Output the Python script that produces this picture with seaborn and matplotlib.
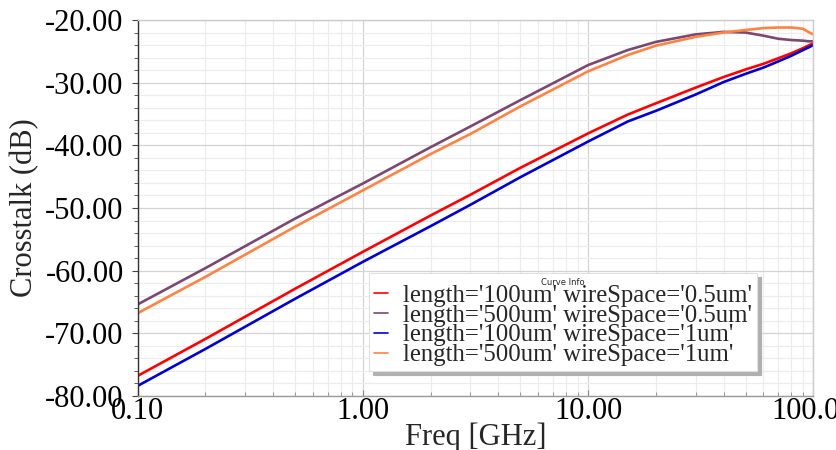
import numpy as np
import pandas as pd
import matplotlib
matplotlib.use("Agg")
import matplotlib.pyplot as plt
from matplotlib.ticker import FixedLocator, MultipleLocator, LogLocator, NullFormatter
import seaborn as sns

# frequency points (GHz)
freq = [0.1, 0.2, 0.5, 1, 2, 3, 5, 10, 15, 20, 30, 40, 50, 60, 70, 80, 90, 95, 100]

# crosstalk in dB for each curve
xt_100_05 = [-76.8, -70.9, -62.9, -57.0, -51.2, -47.9, -43.6, -38.1, -35.1, -33.3,
             -30.8, -29.1, -27.9, -27.0, -26.1, -25.3, -24.5, -24.1, -23.7]
xt_500_05 = [-65.4, -59.6, -51.7, -46.1, -40.3, -37.0, -32.8, -27.2, -24.8, -23.5,
             -22.3, -21.9, -22.0, -22.5, -23.0, -23.2, -23.3, -23.4, -23.4]
xt_100_1 = [-78.4, -72.5, -64.5, -58.6, -52.9, -49.5, -45.1, -39.4, -36.2, -34.5,
            -31.9, -29.9, -28.6, -27.6, -26.6, -25.7, -24.8, -24.4, -24.0]
xt_500_1 = [-66.8, -61.0, -53.0, -47.2, -41.4, -38.2, -33.8, -28.2, -25.6, -24.1,
            -22.7, -22.0, -21.6, -21.3, -21.2, -21.2, -21.4, -21.9, -22.3]

labels = ["length='100um' wireSpace='0.5um'",
          "length='500um' wireSpace='0.5um'",
          "length='100um' wireSpace='1um'",
          "length='500um' wireSpace='1um'"]
colors = ["#ff0000", "#7a4870", "#0000d0", "#ff8444"]

x_ticks = [0.1, 1, 10, 100]
x_ticklabels = ["0.10", "1.00", "10.00", "100.00"]

# long form table for seaborn
frames = []
for lab, vals in zip(labels, [xt_100_05, xt_500_05, xt_100_1, xt_500_1]):
    frames.append(pd.DataFrame({"freq": freq, "xt": vals, "curve": lab}))
df = pd.concat(frames, ignore_index=True)

sns.set_theme(style="white")
plt.rcParams['font.family'] = ['Liberation Serif', 'DejaVu Serif']

fig = plt.figure(figsize=(8.37, 4.5), dpi=100)
ax = fig.add_axes([0.1643, 0.12, 0.8074, 0.8356])

sns.lineplot(data=df, x="freq", y="xt", hue="curve", hue_order=labels,
             palette=dict(zip(labels, colors)), linewidth=1.9, ax=ax)

ax.set_xscale('log')
ax.set_xlim(0.1, 100)
ax.set_ylim(-80, -20)

ax.xaxis.set_major_locator(FixedLocator(x_ticks))
ax.set_xticklabels(x_ticklabels)
ax.xaxis.set_minor_locator(LogLocator(base=10, subs=np.arange(2, 10)))
ax.xaxis.set_minor_formatter(NullFormatter())
ax.yaxis.set_major_locator(MultipleLocator(10))
ax.yaxis.set_minor_locator(MultipleLocator(2))
ax.yaxis.set_major_formatter(matplotlib.ticker.FormatStrFormatter('%.2f'))

ax.grid(True, which='major', color='#d4d4d4', linewidth=0.9)
ax.grid(True, which='minor', color='#ececec', linewidth=0.8)

ax.tick_params(axis='y', which='major', direction='out', length=4, width=0.8,
               color='#444444', labelsize=22, pad=6, left=True)
ax.tick_params(axis='y', which='minor', direction='out', length=3, width=0.6,
               color='#444444', left=True)
ax.tick_params(axis='x', which='major', direction='in', length=4, width=0.8,
               color='#888888', labelsize=22, pad=1, bottom=True)
ax.tick_params(axis='x', which='minor', direction='in', length=3, width=0.6,
               color='#888888', bottom=True)
for t in ax.get_yticklabels() + ax.get_xticklabels():
    t.set_color('black')

ax.spines['left'].set_color('#333333')
ax.spines['bottom'].set_color('#999999')
ax.spines['top'].set_color('#cccccc')
ax.spines['right'].set_color('#cccccc')
for s in ax.spines.values():
    s.set_linewidth(1.0)

ax.set_xlabel('Freq [GHz]', fontsize=22, labelpad=-3)
ax.set_ylabel('Crosstalk (dB)', fontsize=22, labelpad=4)

handles, _ = ax.get_legend_handles_labels()
leg = ax.legend(handles, labels, loc='lower left', bbox_to_anchor=(0.343, 0.066),
                fontsize=17.8, labelspacing=-0.1, handlelength=0.55, handletextpad=0.6,
                borderpad=0.2, borderaxespad=0, frameon=True, fancybox=False,
                shadow={'color': '#b0b0b0', 'alpha': 1.0, 'ox': 3, 'oy': -3},
                title='Curve Info',
                title_fontproperties={'family': 'DejaVu Sans', 'size': 6})
leg.get_frame().set_edgecolor('#e0e0e0')
leg.get_frame().set_linewidth(0.8)
for line in leg.get_lines():
    line.set_linewidth(1.2)

fig.savefig("out.png", dpi=100)
